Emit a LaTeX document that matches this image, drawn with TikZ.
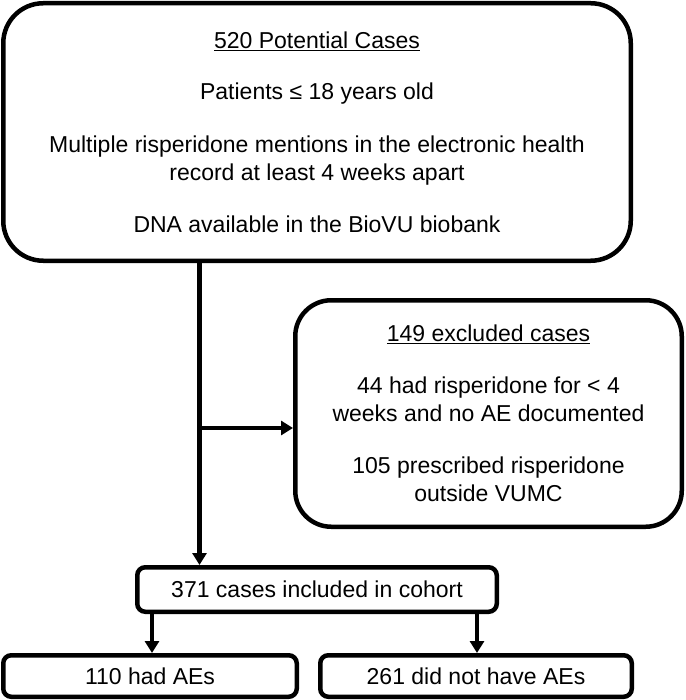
\documentclass[tikz,border=0pt]{standalone}
\usepackage{fontspec}
\setmainfont{Liberation Sans}
\usetikzlibrary{arrows.meta}
\begin{document}
\begin{tikzpicture}[x=1pt,y=-1pt,
  box/.style={draw, line width=4.5pt, rounded corners=#1, inner sep=0pt, align=center,
    font=\fontsize{23}{28}\selectfont},
  box/.default=8pt,
  conn/.style={line width=4.5pt, -{Triangle[length=12pt,width=14pt]}}]
\useasboundingbox (0,0) rectangle (685,700);
\node[box=40pt, minimum width=627.5pt, minimum height=257.5pt] (top) at (317,132)
  {\underline{520 Potential Cases}\\[23pt]
   Patients ≤ 18 years old\\[25pt]
   Multiple risperidone mentions in the electronic health\\
   record at least 4 weeks apart\\[24pt]
   DNA available in the BioVU biobank};
\node[box=36pt, minimum width=386.5pt, minimum height=226.5pt] (excl) at (488.5,413.5)
  {\underline{149 excluded cases}\\[24pt]
   44 had risperidone for < 4\\
   weeks and no AE documented\\[24pt]
   105 prescribed risperidone\\
   outside VUMC};
\node[box, minimum width=359.5pt, minimum height=44.5pt] (incl) at (317,589.5)
  {371 cases included in cohort};
\node[box, minimum width=293.5pt, minimum height=41.5pt] (ae) at (150,676)
  {110 had AEs};
\node[box, minimum width=311.5pt, minimum height=41.5pt] (noae) at (476,676)
  {261 did not have AEs};
\coordinate (trunk) at (199.5,0);
\coordinate (branch) at (0,428);
\coordinate (left) at (152,0);
\coordinate (right) at (477,0);
\draw[conn] (top.south -| trunk) -- (incl.north -| trunk);
\draw[conn] (trunk |- branch) -- (excl.west |- branch);
\draw[conn] (incl.south -| left) -- (ae.north -| left);
\draw[conn] (incl.south -| right) -- (noae.north -| right);
\end{tikzpicture}
\end{document}
